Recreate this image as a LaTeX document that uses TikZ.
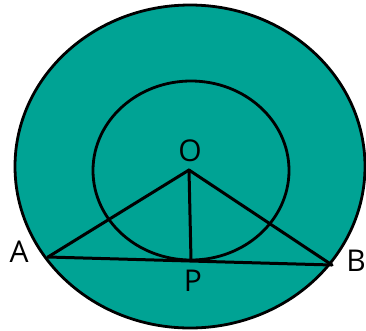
\documentclass[tikz,border=0pt]{standalone}
\usepackage{fontspec}
\setmainfont{Open Sans}
\usepackage{tikz}
\usetikzlibrary{positioning,calc}
\definecolor{ringteal}{RGB}{0,163,148}

\begin{document}
\begin{tikzpicture}[
    x=1pt, y=-1pt,
    rim/.style={draw=black, line width=2.8pt},
    seg/.style={draw=black, line width=3pt, line cap=round, line join=round},
    label/.style={font=\fontsize{30}{32}\selectfont, inner sep=0pt}
]
\useasboundingbox (0,0) rectangle (366,330);

% Circles
\draw[rim, fill=ringteal] (190,166.5) ellipse [x radius=175, y radius=161.5];
\draw[rim] (191,170.5) ellipse [x radius=98, y radius=89.5];

% Points
\coordinate (O) at (189,170);
\coordinate (A) at (48,257);
\coordinate (B) at (332,265);
\coordinate (P) at (191,260);

% Segments
\draw[seg] (A) -- (O) -- (B);
\draw[seg] (O) -- (P);
\draw[seg] (A) -- (B);

% Labels
\node[label] (lO) at (190,151) {O};
\node[label] (lA) at (19,252) {A};
\node[label] (lB) at (356,261) {B};
\node[label] (lP) at (193,281) {P};
\end{tikzpicture}
\end{document}
